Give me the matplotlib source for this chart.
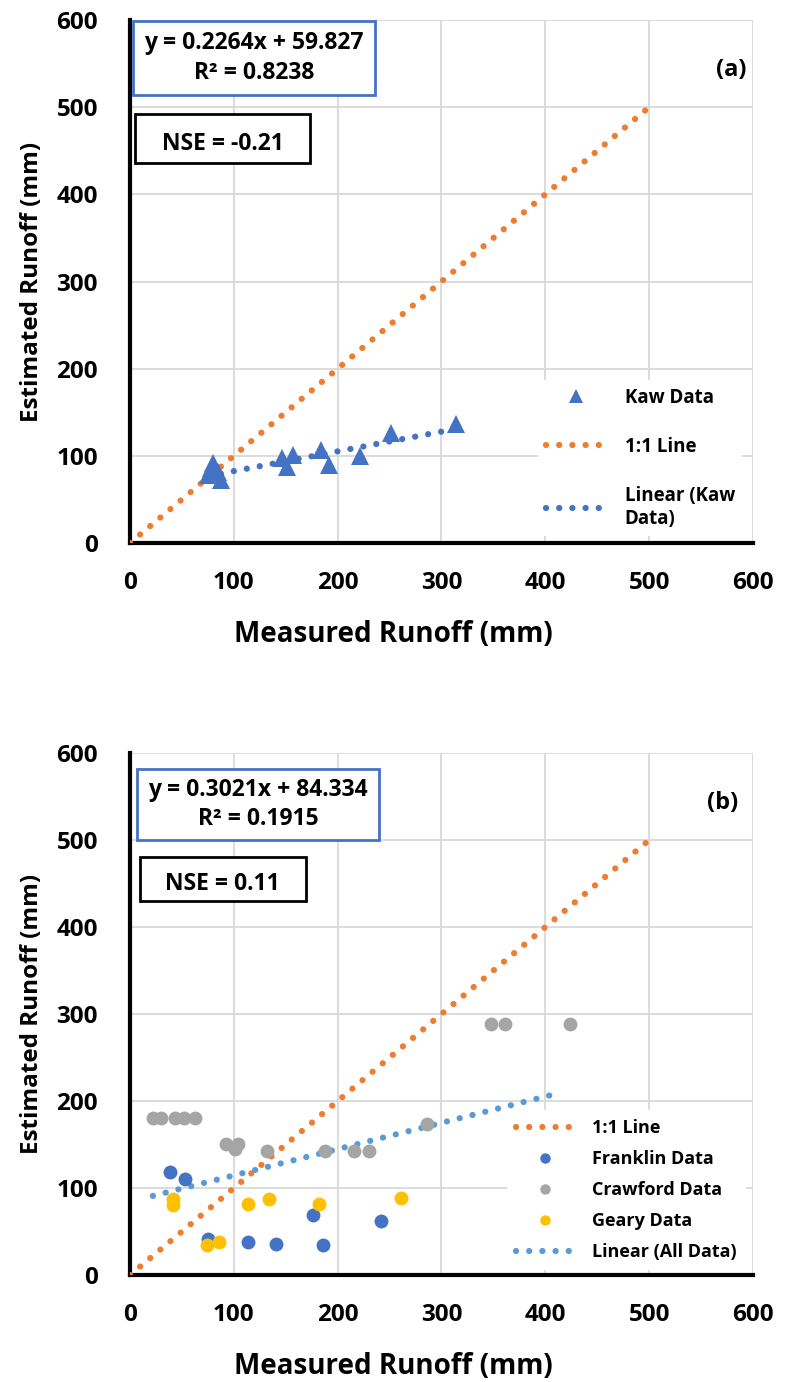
import numpy as np
import matplotlib.pyplot as plt
from matplotlib.patches import Rectangle

plt.rcParams['font.family'] = ['Open Sans', 'DejaVu Sans']
plt.rcParams['font.weight'] = 'bold'

# (a) Kaw data
kaw_x = [75, 80, 85, 88, 78, 146, 151, 157, 184, 192, 222, 251, 314]
kaw_y = [78, 92, 82, 72, 86, 98, 87, 101, 107, 90, 100, 126, 137]
kaw_slope, kaw_int = 0.2264, 59.827

# (b) Franklin, Crawford, Geary
fr_x = [39, 53, 75, 114, 141, 176, 186, 242]
fr_y = [119, 110, 41, 38, 36, 69, 34, 62]
cr_x = [22, 30, 43, 52, 63, 92, 101, 104, 132, 188, 216, 230, 286, 348, 361, 424]
cr_y = [181, 181, 181, 181, 181, 151, 145, 151, 142, 142, 142, 142, 174, 289, 289, 289]
ge_x = [41, 41, 74, 86, 114, 134, 182, 261]
ge_y = [87, 80, 34, 38, 82, 87, 82, 89]
all_slope, all_int = 0.3021, 84.334

orange = '#ED7D31'
blue = '#4472C4'
lblue = '#5B9BD5'
gray = '#A5A5A5'
gold = '#FFC000'
dots = (0, (0.01, 2.1))
dlw = 4.5

fig = plt.figure(figsize=(7.85, 13.82), dpi=100)
ax_a = fig.add_axes([0.1656, 0.6071, 0.7936, 0.3784])
ax_b = fig.add_axes([0.1656, 0.0774, 0.7936, 0.3777])


def style(ax):
    ax.set_xlim(0, 600)
    ax.set_ylim(0, 600)
    ax.set_xticks(np.arange(0, 601, 100))
    ax.set_yticks(np.arange(0, 601, 100))
    ax.grid(color='#D9D9D9', linewidth=1.3, zorder=0)
    ax.set_axisbelow(True)
    for s in ['top', 'right']:
        ax.spines[s].set_visible(False)
    for s in ['left', 'bottom']:
        ax.spines[s].set_linewidth(3)
        ax.spines[s].set_color('black')
    ax.tick_params(axis='y', length=0, pad=23, labelsize=17.5)
    ax.tick_params(axis='x', length=0, pad=20, labelsize=17.5)
    ax.set_xlabel('Measured Runoff (mm)', fontsize=20, fontweight='bold',
                  labelpad=18, x=0.422)
    ax.set_ylabel('Estimated Runoff (mm)', fontsize=17.5, fontweight='bold', labelpad=9)


def boxes(ax, eq, nse, eqbox, nsebox):
    x0, y0, x1, y1 = eqbox
    ax.add_patch(Rectangle((x0, y0), x1 - x0, y1 - y0, transform=ax.transAxes,
                           facecolor='white', edgecolor=blue, linewidth=2,
                           clip_on=False, zorder=5))
    ax.text((x0 + x1) / 2, (y0 + y1) / 2, eq, transform=ax.transAxes,
            ha='center', va='center', fontsize=16.5, fontweight='bold',
            linespacing=1.3, zorder=6)
    x0, y0, x1, y1 = nsebox
    ax.add_patch(Rectangle((x0, y0), x1 - x0, y1 - y0, transform=ax.transAxes,
                           facecolor='white', edgecolor='black', linewidth=2,
                           clip_on=False, zorder=5))
    ax.text((x0 + x1) / 2, (y0 + y1) / 2 - 0.01, nse, transform=ax.transAxes,
            ha='center', va='center', fontsize=16.5, fontweight='bold', zorder=6)


# ---- panel (a)
style(ax_a)
ax_a.plot(kaw_x, kaw_y, '^', color=blue, markersize=13, markeredgewidth=0,
          label='Kaw Data', zorder=4)
ax_a.plot([0, 500], [0, 500], color=orange, linewidth=dlw, linestyle=dots,
          dash_capstyle='round', label='1:1 Line', zorder=3)
xa = np.array([min(kaw_x), max(kaw_x)])
ax_a.plot(xa, kaw_slope * xa + kaw_int, color=blue, linewidth=dlw, linestyle=dots,
          dash_capstyle='round', label='Linear (Kaw\nData)', zorder=3)
leg = ax_a.legend(loc='lower right', bbox_to_anchor=(0.998, -0.005), fontsize=13.5,
                  frameon=True, facecolor='white', edgecolor='none', framealpha=1,
                  fancybox=False, handlelength=3.2, handletextpad=1.0,
                  labelspacing=1.55, markerscale=0.75, borderpad=0.4)
leg.set_zorder(7)
ax_a.text(0.965, 0.905, '(a)', transform=ax_a.transAxes, ha='center', va='center',
          fontsize=17, fontweight='bold')
boxes(ax_a, 'y = 0.2264x + 59.827\nR² = 0.8238', 'NSE = -0.21',
      (0.005, 0.857, 0.393, 0.998), (0.008, 0.727, 0.289, 0.820))

# ---- panel (b)
style(ax_b)
ax_b.plot([0, 500], [0, 500], color=orange, linewidth=dlw, linestyle=dots,
          dash_capstyle='round', label='1:1 Line', zorder=3)
ax_b.plot(fr_x, fr_y, 'o', color=blue, markersize=10, markeredgewidth=0,
          label='Franklin Data', zorder=4)
ax_b.plot(cr_x, cr_y, 'o', color=gray, markersize=10, markeredgewidth=0,
          label='Crawford Data', zorder=4)
ax_b.plot(ge_x, ge_y, 'o', color=gold, markersize=10, markeredgewidth=0,
          label='Geary Data', zorder=4)
all_x = fr_x + cr_x + ge_x
xb = np.array([min(all_x), 415])
ax_b.plot(xb, all_slope * xb + all_int, color=lblue, linewidth=dlw, linestyle=dots,
          dash_capstyle='round', label='Linear (All Data)', zorder=3)
leg = ax_b.legend(loc='lower right', bbox_to_anchor=(1.003, -0.008), fontsize=13,
                  frameon=True, facecolor='white', edgecolor='none', framealpha=1,
                  fancybox=False, handlelength=3.2, handletextpad=1.0,
                  labelspacing=0.72, markerscale=0.75, borderpad=0.5)
leg.set_zorder(7)
ax_b.text(0.952, 0.904, '(b)', transform=ax_b.transAxes, ha='center', va='center',
          fontsize=17, fontweight='bold')
boxes(ax_b, 'y = 0.3021x + 84.334\nR² = 0.1915', 'NSE = 0.11',
      (0.011, 0.833, 0.400, 0.969), (0.016, 0.716, 0.282, 0.801))

fig.savefig('out.png', dpi=100)
